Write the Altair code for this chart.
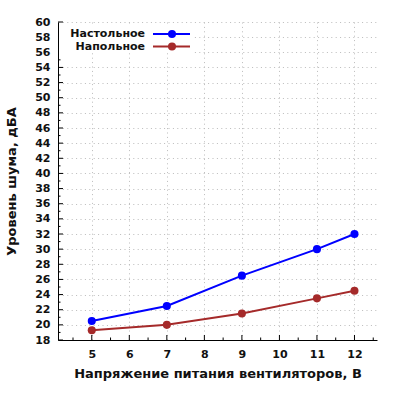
import altair as alt
import pandas as pd

# ---- data ----
voltages = [5, 7, 9, 11, 12]
desk_noise = [20.5, 22.5, 26.5, 30.0, 32.0]
floor_noise = [19.3, 20.0, 21.5, 23.5, 24.5]
series_names = ["Настольное", "Напольное"]
series_colors = ["#0000ff", "#a52a2a"]
x_major_ticks = [5, 6, 7, 8, 9, 10, 11, 12]
x_minor_ticks = [4.5, 5.5, 6.5, 7.5, 8.5, 9.5, 10.5, 11.5, 12.5]
y_major_ticks = [18, 20, 22, 24, 26, 28, 30, 32, 34, 36, 38, 40, 42, 44, 46, 48, 50, 52, 54, 56, 58, 60]
y_minor_ticks = [19, 21, 23, 25, 27, 29, 31, 33, 35, 37, 39, 41, 43, 45, 47, 49, 51, 53, 55, 57, 59]
x_title = "Напряжение питания вентиляторов, В"
y_title = "Уровень шума, дБА"

rows = []
for v, a, b in zip(voltages, desk_noise, floor_noise):
    rows.append({"x": v, "y": a, "series": series_names[0]})
    rows.append({"x": v, "y": b, "series": series_names[1]})
df = pd.DataFrame(rows)

FONT = "DejaVu Sans"
W, H = 319, 318

color = alt.Color("series:N", scale=alt.Scale(domain=series_names, range=series_colors), legend=None)
x_scale = alt.Scale(domain=[4.1, 12.6], nice=False, zero=False)
y_scale = alt.Scale(domain=[18, 60], nice=False, zero=False)

x_enc = alt.X(
    "x:Q", scale=x_scale,
    axis=alt.Axis(
        values=x_major_ticks, tickCount=100, format="d", labelOverlap=False,
        title=x_title,
        titleFont=FONT, titleFontSize=13, titleFontWeight="bold", titleColor="#111",
        titlePadding=8,
        labelFont=FONT, labelFontSize=11, labelFontWeight="bold", labelColor="#111",
        labelPadding=8, ticks=False,
        domainColor="black", domainWidth=1,
        grid=True, gridColor="#bbbbbb", gridDash=[1, 3.4],
    ),
)
y_enc = alt.Y(
    "y:Q", scale=y_scale,
    axis=alt.Axis(
        values=y_major_ticks, tickCount=100, format="d", labelOverlap=False,
        title=y_title,
        titleFont=FONT, titleFontSize=13, titleFontWeight="bold", titleColor="#111",
        titlePadding=16,
        labelFont=FONT, labelFontSize=11, labelFontWeight="bold", labelColor="#111",
        labelPadding=8, ticks=False,
        domainColor="black", domainWidth=1,
        grid=True, gridColor="#bbbbbb", gridDash=[1, 3.4],
    ),
)

base = alt.Chart(df)
lines = base.mark_line(strokeWidth=2).encode(x=x_enc, y=y_enc, color=color, detail="series:N")
points = base.mark_circle(size=65, opacity=1).encode(x="x:Q", y="y:Q", color=color)

# ---- inward ticks ----
tick_layers = []
for vals, length in ((x_major_ticks, 5), (x_minor_ticks, 2.5)):
    tick_layers.append(
        alt.Chart(pd.DataFrame({"t": vals})).mark_rule(color="black", strokeWidth=1).encode(
            x=alt.X("t:Q", scale=x_scale), y=alt.value(H), y2=alt.value(H - length))
    )
for vals, length in ((y_major_ticks, 5), (y_minor_ticks, 2.5)):
    tick_layers.append(
        alt.Chart(pd.DataFrame({"t": vals})).mark_rule(color="black", strokeWidth=1).encode(
            y=alt.Y("t:Q", scale=y_scale), x=alt.value(0), x2=alt.value(length))
    )

# ---- legend (manual, symbol to the right of label) ----
leg_bg = alt.Chart(pd.DataFrame({"a": [0]})).mark_rect(color="white").encode(
    x=alt.value(1), x2=alt.value(136), y=alt.value(2), y2=alt.value(31)
)
legend_layers = [leg_bg]
for i, (name, col) in enumerate(zip(series_names, series_colors)):
    yy = 12 + 12.5 * i
    d = pd.DataFrame({"series": [name]})
    legend_layers.append(
        alt.Chart(d).mark_text(align="right", baseline="middle", font=FONT, fontSize=11,
                               fontWeight="bold", color="#111").encode(
            text="series:N", x=alt.value(87), y=alt.value(yy))
    )
    legend_layers.append(
        alt.Chart(d).mark_rule(color=col, strokeWidth=2).encode(
            x=alt.value(95), x2=alt.value(132), y=alt.value(yy))
    )
    legend_layers.append(
        alt.Chart(d).mark_point(color=col, filled=True, opacity=1, size=65, shape="circle").encode(
            x=alt.value(114), y=alt.value(yy))
    )

chart = alt.layer(lines, points, *tick_layers, *legend_layers).properties(
    width=W, height=H,
    autosize=alt.AutoSizeParams(type="none"),
    padding={"left": 58, "top": 22, "right": 23, "bottom": 60},
    background="white",
).configure_view(stroke=None)

chart.save("out.html", embed_options={"renderer": "svg", "actions": False})
